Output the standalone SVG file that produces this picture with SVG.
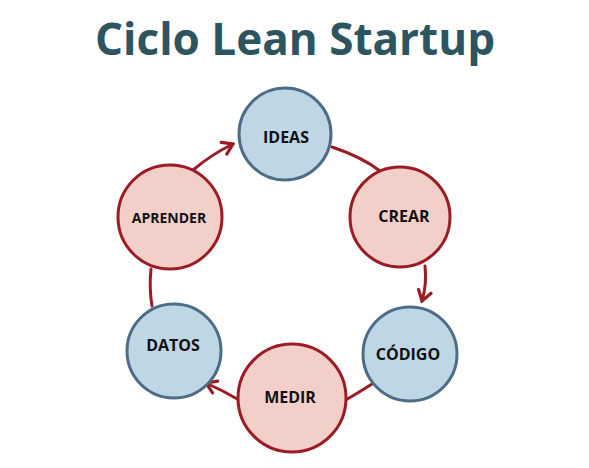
<svg xmlns="http://www.w3.org/2000/svg" width="589" height="468" viewBox="0 0 589 468">
  <style>
    .title { font-family: "Open Sans", "Liberation Sans", sans-serif; font-weight: 700; font-size: 44px; fill: #2d5560; }
    .blue circle { fill: #bfd6e4; stroke: #4d6d86; stroke-width: 3; }
    .red circle { fill: #f2d0c9; stroke: #9b1c24; stroke-width: 3; }
    .label { font-family: "Open Sans", "Liberation Sans", sans-serif; font-weight: 700; font-size: 16px; fill: #111111; text-anchor: middle; }
    .small { font-size: 14px; }
    .link { fill: none; stroke: #9b1c24; stroke-width: 3; stroke-linecap: round; }
  </style>
  <defs>
    <marker id="chevron" viewBox="-13 -9 15 18" markerWidth="15" markerHeight="18" refX="0" refY="0" orient="auto" markerUnits="userSpaceOnUse">
      <path d="M-10,-6.5 L0,0 L-10,6.5" fill="none" stroke="#9b1c24" stroke-width="3.2" stroke-linecap="round" stroke-linejoin="miter"/>
    </marker>
  </defs>

  <rect width="589" height="468" fill="#ffffff"/>

  <text class="title" x="295" y="55" text-anchor="middle" textLength="400" lengthAdjust="spacingAndGlyphs">Ciclo Lean Startup</text>

  <!-- cycle connectors -->
  <g id="connectors">
    <path class="link" d="M332,147 Q362,157 380,171"/>
    <path class="link" d="M425,266 Q427,284 422,301" marker-end="url(#chevron)"/>
    <path class="link" d="M372,384 Q358,393 344,401"/>
    <path class="link" d="M239,400 Q222,390 206,383" marker-end="url(#chevron)"/>
    <path class="link" d="M152,306 Q149,288 151,269"/>
    <path class="link" d="M193,170 Q212,154 233,144" marker-end="url(#chevron)"/>
  </g>

  <g id="ideas" class="blue">
    <circle cx="285" cy="134" r="46"/>
    <text class="label" x="286" y="143">IDEAS</text>
  </g>
  <g id="crear" class="red">
    <circle cx="400" cy="217" r="50"/>
    <text class="label" x="404" y="222">CREAR</text>
  </g>
  <g id="codigo" class="blue">
    <circle cx="410" cy="354" r="47"/>
    <text class="label" x="408" y="360">CÓDIGO</text>
  </g>
  <g id="medir" class="red">
    <circle cx="292" cy="398" r="54"/>
    <text class="label" x="290" y="403">MEDIR</text>
  </g>
  <g id="datos" class="blue">
    <circle cx="174" cy="351" r="47"/>
    <text class="label" x="173" y="351">DATOS</text>
  </g>
  <g id="aprender" class="red">
    <circle cx="170" cy="217" r="52"/>
    <text class="label small" x="169" y="223">APRENDER</text>
  </g>
</svg>
